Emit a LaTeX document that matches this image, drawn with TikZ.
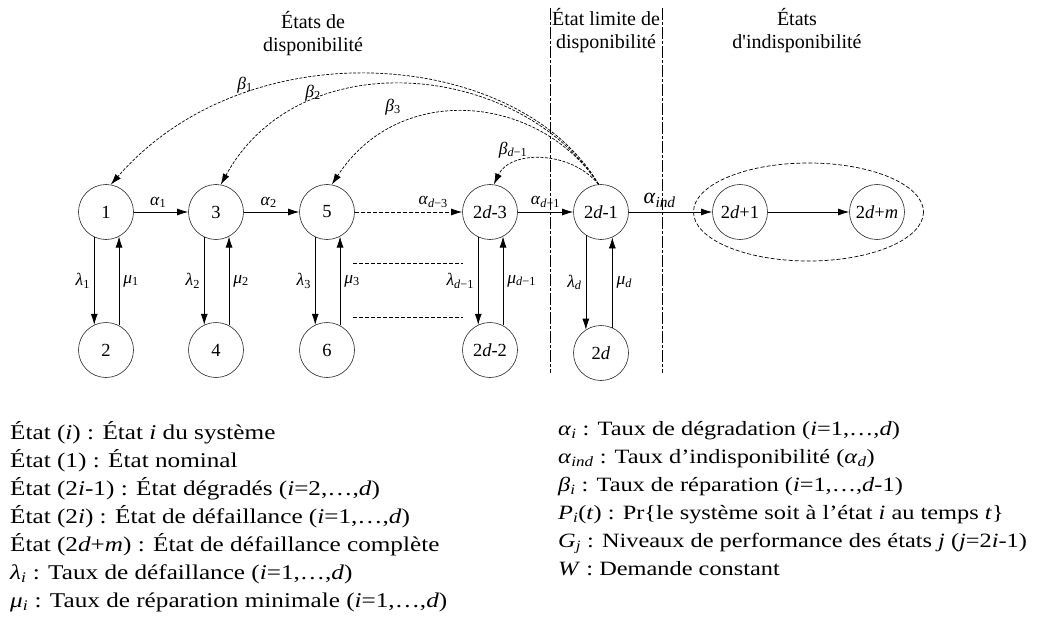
\documentclass[tikz,border=0pt]{standalone}
\usepackage{fontspec}
\setmainfont{Liberation Serif}
\newfontfamily\legfont[FakeStretch=1.2]{Liberation Serif}
\usetikzlibrary{arrows.meta,calc}

\newcommand\gsym[2]{\textit{#1}\textsubscript{#2}}

\tikzset{
  etat/.style={circle, draw=black!85, line width=0.6pt, minimum size=55pt, inner sep=0pt,
    font=\fontsize{18.5}{18.5}\selectfont},
  fleche/.style={-{Latex[length=11pt,width=7pt]}, line width=0.7pt},
  retour/.style={fleche, dash pattern=on 3pt off 1.5pt},
  lbl/.style={font=\fontsize{17.5}{17.5}\selectfont, inner sep=1pt},
  titre/.style={align=center, font=\fontsize{20}{23}\selectfont},
  limite/.style={line width=0.6pt, dash pattern=on 12pt off 2pt on 3pt off 2pt},
  pointille/.style={line width=0.7pt, dash pattern=on 4pt off 2pt},
  legende/.style={align=left, inner sep=0pt, anchor=north west,
    font=\legfont\fontsize{21}{28}\selectfont},
}

\begin{document}
\begin{tikzpicture}[x=1pt,y=-1pt]
  \useasboundingbox (0,0) rectangle (1037,626);
  \def\haut{212}
  \def\bas{350}

  % titres des zones
  \node[titre] (hdispo) at (313,34) {États de\\disponibilité};
  \node[titre] (hlimite) at (606,31) {État limite de\\disponibilité};
  \node[titre] (hindispo) at (797,31) {États\\d\textquotesingle indisponibilité};
  \draw[limite] (550,8) -- (550,373);
  \draw[limite] (662,8) -- (662,373);

  % etats disponibles
  \foreach \t/\b/\x/\k in {1/2/106/1, 3/4/216/2, 5/6/327/3} {
    \node[etat] (e\t) at (\x,\haut) {\t};
    \node[etat] (e\b) at (\x,\bas) {\b};
    \draw[fleche] (e\t.-115) -- (e\b.115) node[midway,left=3pt,lbl] {\gsym{λ}{\k}};
    \draw[fleche] (e\b.62) -- (e\t.-62) node[midway,right=3pt,lbl] {\gsym{μ}{\k}};
  }
  \node[etat] (e2d3) at (490,\haut) {2\textit{d}-3};
  \node[etat] (e2d2) at (490,\bas) {2\textit{d}-2};
  \node[etat] (e2d1) at (601,\haut) {2\textit{d}-1};
  \node[etat] (e2d) at (601,353) {2\textit{d}};
  \node[etat] (e2dp1) at (740,\haut) {2\textit{d}+1};
  \node[etat] (e2dm) at (877,\haut) {2\textit{d}+\textit{m}};

  \draw[fleche] (e2d3.-115) -- (e2d2.115) node[midway,left=3pt,lbl] {\gsym{λ}{\textit{d}−1}};
  \draw[fleche] (e2d2.62) -- (e2d3.-62) node[midway,right=3pt,lbl] {\gsym{μ}{\textit{d}−1}};
  \draw[fleche] (e2d1.-123) -- (e2d.123) node[midway,left=3pt,lbl] {\gsym{λ}{\textit{d}}};
  \draw[fleche] (e2d.66) -- (e2d1.-66) node[midway,right=3pt,lbl] {\gsym{μ}{\textit{d}}};

  % degradation
  \draw[fleche] (e1) -- (e3) node[pos=0.45,above=3pt,lbl] {\gsym{α}{1}};
  \draw[fleche] (e3) -- (e5) node[pos=0.45,above=3pt,lbl] {\gsym{α}{2}};
  \draw[fleche,pointille] (e5) -- (e2d3) node[pos=0.73,above=3pt,lbl] {\gsym{α}{\textit{d}−3}};
  \draw[fleche] (e2d3) -- (e2d1) node[pos=0.5,above=3pt,lbl] {\gsym{α}{\textit{d}−1}};
  \draw[fleche] (e2d1) -- (e2dp1) node[pos=0.37,above=3pt,lbl,font=\fontsize{22}{22}\selectfont] {\gsym{α}{\textit{ind}}};
  \draw[fleche] (e2dp1) -- (e2dm);
  \draw[pointille] ($(e2dp1)!0.5!(e2dm)$) ellipse [x radius=115, y radius=49];
  \draw[pointille] (353,263) -- (463,263);
  \draw[pointille] (353,317) -- (463,317);

  % reparations
  \draw[retour] (e2d1.95) .. controls (520,50) and (250,25) .. (e1.80);
  \draw[retour] (e2d1.95) .. controls (520,62) and (300,40) .. (e3.80);
  \draw[retour] (e2d1.95) .. controls (540,95) and (400,80) .. (e5.80);
  \draw[retour] (e2d1.95) .. controls (570,150) and (510,150) .. (e2d3.82);
  \node[lbl] (b1) at (245,85) {\gsym{β}{1}};
  \node[lbl] (b2) at (313,93) {\gsym{β}{2}};
  \node[lbl] (b3) at (393,107) {\gsym{β}{3}};
  \node[lbl] (bd1) at (513,150) {\gsym{β}{\textit{d}−1}};

  % legende
  \node[legende] (legA) at (10,421) {État (\textit{i}) : État \textit{i} du système\\
    État (1) : État nominal\\
    État (2\textit{i}-1) : État dégradés (\textit{i}=2,…,\textit{d})\\
    État (2\textit{i}) : État de défaillance (\textit{i}=1,…,\textit{d})\\
    État (2\textit{d}+\textit{m}) : État de défaillance complète\\
    \gsym{λ}{\textit{i}} : Taux de défaillance (\textit{i}=1,…,\textit{d})\\
    \gsym{μ}{\textit{i}} : Taux de réparation minimale (\textit{i}=1,…,\textit{d})};
  \node[legende, font=\legfont\fontsize{20.3}{28}\selectfont] (legB) at (558,421) {\gsym{α}{\textit{i}} : Taux de dégradation (\textit{i}=1,…,\textit{d})\\
    \gsym{α}{\textit{ind}} : Taux d’indisponibilité (\gsym{α}{\textit{d}})\\
    \gsym{β}{\textit{i}} : Taux de réparation (\textit{i}=1,…,\textit{d}-1)\\
    \textit{P}\textsubscript{\textit{i}}(\textit{t}) : Pr\{le système soit à l’état \textit{i} au temps \textit{t}\}\\
    \textit{G}\textsubscript{\textit{j}} : Niveaux de performance des états \textit{j} (\textit{j}=2\textit{i}-1)\\
    \textit{W} : Demande constant};
\end{tikzpicture}
\end{document}
